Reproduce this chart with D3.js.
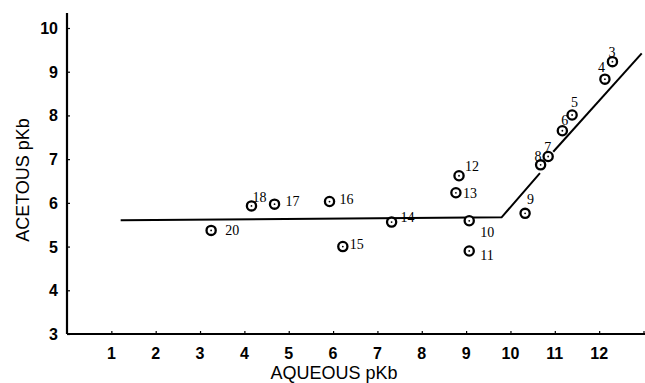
<html>
<head>
<script src="https://d3js.org/d3.v7.min.js"></script>
<style>
  body { margin: 0; background: #fff; }
</style>
</head>
<body>
<svg id="chart" width="645" height="383"></svg>
<script>
// compound number, aqueous pKb (x), acetous pKb (y)
var ids     = [3, 4, 5, 6, 7, 8, 9, 10, 11, 12, 13, 14, 15, 16, 17, 18, 20];
var aqueous = [12.30, 12.13, 11.39, 11.17, 10.85, 10.68, 10.33, 9.07, 9.07, 8.84, 8.77, 7.32, 6.22, 5.92, 4.68, 4.16, 3.25];
var acetous = [9.23, 8.83, 8.01, 7.65, 7.06, 6.87, 5.76, 5.59, 4.90, 6.62, 6.23, 5.56, 5.00, 6.03, 5.97, 5.93, 5.37];
// label offset from the circle centre (px)
var labelDx = [-4, -7, -1, -1, -4, -6, 2, 11, 11, 6, 7, 9, 7, 10, 11, 1, 14];
var labelDy = [-10, -12, -13, -11, -10, -9, -14, 11, 4, -10, 0, -5, -3, -3, -3, -9, 0];

// fitted line, drawn in two pieces (broken where points 7/8 sit)
var fitX1 = [1.21, 9.80, 10.665];
var fitY1 = [5.60, 5.67, 6.68];
var fitX2 = [10.965, 12.96];
var fitY2 = [7.17, 9.42];

var xTicks = [1, 2, 3, 4, 5, 6, 7, 8, 9, 10, 11, 12];
var yTicks = [3, 4, 5, 6, 7, 8, 9, 10];

var svg = d3.select("#chart");
var x = d3.scaleLinear().domain([0, 13]).range([67, 643.5]);
var y = d3.scaleLinear().domain([3, 10]).range([334, 28]);

// axes
var xAxis = svg.append("g")
    .attr("transform", "translate(0," + y(3) + ")")
    .call(d3.axisTop(x).tickValues(xTicks.concat([13])).tickSize(3).tickSizeOuter(0).tickFormat(""));
xAxis.select(".domain").attr("d", "M" + x(0) + ",0H645").attr("stroke-width", 2.2);
xAxis.selectAll(".tick line").attr("stroke-width", 1.2);
svg.append("g").selectAll("text")
    .data(xTicks)
    .enter().append("text")
    .attr("x", function (d) { return x(d); })
    .attr("y", 359)
    .attr("text-anchor", "middle")
    .attr("fill", "#000")
    .style("font-family", "Liberation Sans, Arial, sans-serif")
    .style("font-weight", "bold")
    .style("font-size", "16px")
    .text(function (d) { return d; });

var yAxis = svg.append("g")
    .attr("transform", "translate(" + x(0) + ",0)")
    .call(d3.axisRight(y).tickValues(yTicks).tickSize(3).tickSizeOuter(0).tickFormat(""));
yAxis.select(".domain").attr("d", "M0,13V" + y(3)).attr("stroke-width", 2.2);
yAxis.selectAll(".tick line").attr("stroke-width", 1.2);
svg.append("g").selectAll("text")
    .data(yTicks)
    .enter().append("text")
    .attr("x", 58)
    .attr("y", function (d) { return y(d) + 6; })
    .attr("text-anchor", "end")
    .attr("fill", "#000")
    .style("font-family", "Liberation Sans, Arial, sans-serif")
    .style("font-weight", "bold")
    .style("font-size", "16px")
    .text(function (d) { return d; });

// axis titles
svg.append("text")
    .attr("x", 334)
    .attr("y", 379)
    .attr("text-anchor", "middle")
    .attr("fill", "#000")
    .style("font-family", "Liberation Sans, Arial, sans-serif")
    .style("font-size", "18px")
    .text("AQUEOUS pKb");
svg.append("text")
    .attr("transform", "translate(29,180) rotate(-90)")
    .attr("text-anchor", "middle")
    .attr("fill", "#000")
    .style("font-family", "Liberation Sans, Arial, sans-serif")
    .style("font-size", "18px")
    .text("ACETOUS pKb");

// fitted line
var line = d3.line()
    .x(function (d) { return x(d[0]); })
    .y(function (d) { return y(d[1]); });
svg.append("path")
    .datum(d3.zip(fitX1, fitY1))
    .attr("d", line)
    .attr("fill", "none")
    .attr("stroke", "#000")
    .attr("stroke-width", 2);
svg.append("path")
    .datum(d3.zip(fitX2, fitY2))
    .attr("d", line)
    .attr("fill", "none")
    .attr("stroke", "#000")
    .attr("stroke-width", 2);

// points: ring with a dot in the middle
var pts = svg.append("g").selectAll("g")
    .data(ids)
    .enter().append("g")
    .attr("transform", function (_, i) {
        return "translate(" + x(aqueous[i]) + "," + y(acetous[i]) + ")";
    });
pts.append("circle")
    .attr("r", 4.6)
    .attr("fill", "#fff")
    .attr("stroke", "#000")
    .attr("stroke-width", 2.3);
pts.append("circle")
    .attr("r", 0.9)
    .attr("fill", "#000");
pts.append("text")
    .attr("x", function (_, i) { return labelDx[i]; })
    .attr("y", function (_, i) { return labelDy[i] + 5; })
    .attr("fill", "#000")
    .style("font-family", "Liberation Serif, Times New Roman, serif")
    .style("font-size", "14px")
    .text(function (d) { return d; });
</script>
</body>
</html>
